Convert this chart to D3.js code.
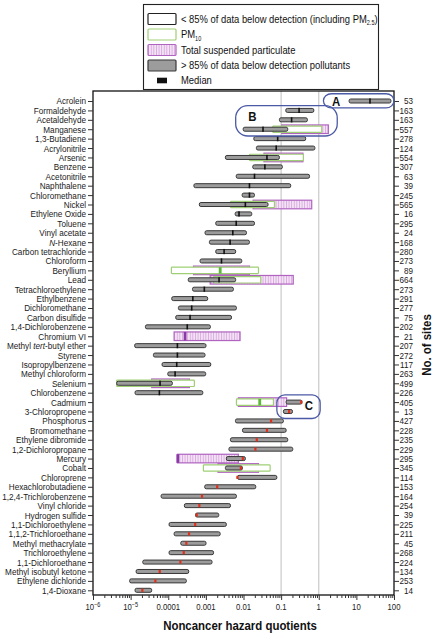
<!DOCTYPE html>
<html><head><meta charset="utf-8">
<script src="https://cdn.jsdelivr.net/npm/d3@7"></script>
<style>
body{margin:0;background:#fff}
svg{font-family:"Liberation Sans",Arial,sans-serif}
</style></head><body>
<svg id="c" width="437" height="636"></svg>
<script>
const categories = ["Acrolein","Formaldehyde","Acetaldehyde","Manganese","1,3-Butadiene","Acrylonitrile","Arsenic","Benzene","Acetonitrile","Naphthalene","Chloromethane","Nickel","Ethylene Oxide","Toluene","Vinyl acetate","N-Hexane","Carbon tetrachloride","Chloroform","Beryllium","Lead","Tetrachloroethylene","Ethylbenzene","Dichloromethane","Carbon disulfide","1,4-Dichlorobenzene","Chromium VI","Methyl tert-butyl ether","Styrene","Isopropylbenzene","Methyl chloroform","Selenium","Chlorobenzene","Cadmium","3-Chloropropene","Phosphorus","Bromomethane","Ethylene dibromide","1,2-Dichloropropane","Mercury","Cobalt","Chloroprene","Hexachlorobutadiene","1,2,4-Trichlorobenzene","Vinyl chloride","Hydrogen sulfide","1,1-Dichloroethylene","1,1,2-Trichloroethane","Methyl methacrylate","Trichloroethylene","1,1-Dichloroethane","Methyl isobutyl ketone","Ethylene dichloride","1,4-Dioxane"];
const sites = [53,163,163,557,278,124,554,307,63,39,245,565,16,295,24,168,280,273,89,664,273,291,277,75,202,21,207,272,117,263,499,226,405,13,427,228,235,229,295,345,114,153,164,254,39,225,211,45,268,224,134,253,14];

// gray bars: low, high, median
const grayLow  = [6.4,0.133,0.090,0.0098,0.0188,0.022,0.0033,0.0176,0.0064,0.00048,0.0092,0.00067,0.006,0.00183,0.00095,0.00124,0.00183,0.0007,null,0.00034,0.00044,0.000124,0.000186,0.000158,0.0000247,null,0.0000128,0.0000403,0.0000684,0.000097,0.00000425,0.0000131,0.136,0.115,0.0061,0.0094,0.0045,0.0041,0.0035,0.0033,0.0069,0.00093,0.0000645,0.000268,0.00053,0.000105,0.000143,0.000215,0.000105,0.000021,0.000014,0.0000094,0.0000131];
const grayHigh = [83,0.74,0.50,0.15,0.45,0.79,0.090,0.108,0.57,0.18,0.0196,0.045,0.0166,0.0196,0.012,0.0144,0.0062,0.009,null,0.0062,0.0054,0.00112,0.0065,0.0048,0.00132,null,0.00101,0.00095,0.00135,0.00099,0.000129,0.00083,0.36,0.2,0.115,0.136,0.15,0.204,0.0112,0.0094,0.077,0.0212,0.0065,0.0045,0.0022,0.0035,0.0024,0.00101,0.0016,0.00146,0.00035,0.000303,0.0000363];
const grayMed  = [23,0.30,0.19,0.033,0.081,0.074,0.042,0.037,0.0196,0.0144,0.0144,0.0112,0.0076,0.0064,0.0052,0.0044,0.00305,0.0026,null,0.00224,0.00091,0.00045,0.00042,0.00038,0.00032,null,0.000175,0.000175,0.000168,0.000152,0.0000605,0.0000581,0.34,0.163,0.054,0.042,0.0225,0.0207,0.0096,0.0085,0.0069,0.002,0.00079,0.00067,0.00057,0.00052,0.000357,0.000303,0.000258,0.00021,0.0000593,0.0000455,0.0000205];
// categories whose median marker is red
const redMedianCats = ["Cadmium","3-Chloropropene","Phosphorus","Bromomethane","Ethylene dibromide","1,2-Dichloropropane","Mercury","Cobalt","Chloroprene","Hexachlorobutadiene","1,2,4-Trichlorobenzene","Vinyl chloride","Hydrogen sulfide","1,1-Dichloroethylene","1,1,2-Trichloroethane","Methyl methacrylate","Trichloroethylene","1,1-Dichloroethane","Methyl isobutyl ketone","Ethylene dichloride","1,4-Dioxane"];

// PM10
const pm10Cats = ["Manganese","Arsenic","Nickel","Beryllium","Lead","Selenium","Cadmium","Cobalt"];
const pm10Low  = [0.060,0.0144,0.0045,0.000121,0.0016,0.00000425,0.0065,0.00086];
const pm10High = [1.2,0.39,0.0665,0.025,0.0288,0.000495,0.0625,0.051];
const pm10Med  = [null,null,null,0.0024,null,null,0.027,null];

// Total suspended particulate
const tspCats = ["Manganese","Arsenic","Nickel","Beryllium","Lead","Chromium VI","Selenium","Cadmium","Mercury","Cobalt"];
const tspLow  = [0.104,0.035,0.018,0.00047,0.0013,0.000143,0.0000363,0.0073,0.000175,0.0021];
const tspHigh = [1.8,0.38,0.65,0.0144,0.21,0.0081,0.000365,0.14,0.0073,0.025];
const tspMed  = [null,null,null,null,null,0.00028,null,null,0.00018,null];

const xTickValues = [1e-6,1e-5,1e-4,1e-3,1e-2,1e-1,1,10,100];
const xTickLabels = ["10^−6","10^−5","0.0001","0.001","0.01","0.1","1","10","100"];
const refLines = [0.1,1];

const annoLabels = ["A","B","C"];
const annoX0 = [1.33,0.0062,0.077];
const annoX1 = [100,3.1,1.09];
const annoRow0 = ["Acrolein","Formaldehyde","Cadmium"];
const annoRow1 = ["Acrolein","Manganese","3-Chloropropene"];
const annoLabelX = [2.9,0.0173,0.55];
const annoLabelRow = ["Acrolein","Formaldehyde","Cadmium"];

const legendLabels = ["< 85% of data below detection (including PM2.5)","PM10","Total suspended particulate","> 85% of data below detection pollutants","Median"];

const K = 0.88; // horizontal condensing of the font
function narrow(sel){
  sel.each(function(){
    const t = d3.select(this);
    const x0 = +t.attr("x") || 0;
    const tr = t.attr("transform") || "";
    t.attr("x",0).attr("transform", `${tr} translate(${x0},0) scale(${K},1)`);
  });
}

const svg = d3.select("#c");
const L=93,R=394,T=91,B=595;
const x = d3.scaleLog().domain([1e-6,100]).range([L,R]);
const y = d3.scalePoint().domain(categories).range([101,590.3]);
const st = y.step();

const defs = svg.append("defs");
const pat = defs.append("pattern").attr("id","tspPat").attr("patternUnits","userSpaceOnUse").attr("width",2.6).attr("height",10);
pat.append("rect").attr("width",2.6).attr("height",10).attr("fill","#f3e3f5");
pat.append("rect").attr("x",0).attr("width",0.9).attr("height",10).attr("fill","#d9a9df");

// reference lines
svg.append("g").selectAll("line").data(refLines).join("line")
  .attr("x1",d=>x(d)).attr("x2",d=>x(d)).attr("y1",T).attr("y2",B)
  .attr("stroke","#c9c9c9").attr("stroke-width",1.2);

// TSP boxes
const tspData = tspCats.map((c,i)=>({c,lo:tspLow[i],hi:tspHigh[i],med:tspMed[i]}));
svg.append("g").selectAll("rect").data(tspData).join("rect")
  .attr("x",d=>x(d.lo)).attr("width",d=>x(d.hi)-x(d.lo))
  .attr("y",d=>y(d.c)-4.3).attr("height",8.6)
  .attr("fill","url(#tspPat)").attr("stroke","#b064c0").attr("stroke-width",1.2);

// PM10 boxes
const pmData = pm10Cats.map((c,i)=>({c,lo:pm10Low[i],hi:pm10High[i],med:pm10Med[i]}));
svg.append("g").selectAll("rect").data(pmData).join("rect")
  .attr("x",d=>x(d.lo)).attr("width",d=>x(d.hi)-x(d.lo))
  .attr("y",d=>y(d.c)-3.2).attr("height",6.4).attr("rx",0.8)
  .attr("fill","#fff").attr("stroke","#9fcf74").attr("stroke-width",1.2);

// gray bars
const grayData = categories.map((c,i)=>({c,lo:grayLow[i],hi:grayHigh[i],med:grayMed[i],red:redMedianCats.includes(c)})).filter(d=>d.lo!=null);
svg.append("g").selectAll("rect").data(grayData).join("rect")
  .attr("x",d=>x(d.lo)).attr("width",d=>x(d.hi)-x(d.lo))
  .attr("y",d=>y(d.c)-2).attr("height",4).attr("rx",1.6)
  .attr("fill","#9c9c9c").attr("stroke","#383838").attr("stroke-width",1);

// medians
svg.append("g").selectAll("rect").data(grayData).join("rect")
  .attr("x",d=>x(d.med)-(d.red?1.1:0.8)).attr("width",d=>d.red?2.2:1.6)
  .attr("y",d=>y(d.c)-(d.red?1.6:2.6)).attr("height",d=>d.red?3.2:5.2)
  .attr("fill",d=>d.red?"#e0301c":"#111");
svg.append("g").selectAll("rect").data(pmData.filter(d=>d.med!=null)).join("rect")
  .attr("x",d=>x(d.med)-1.4).attr("width",2.8)
  .attr("y",d=>y(d.c)-3.2).attr("height",6.4).attr("fill","#5cb83a");
svg.append("g").selectAll("rect").data(tspData.filter(d=>d.med!=null)).join("rect")
  .attr("x",d=>x(d.med)-1.4).attr("width",2.8)
  .attr("y",d=>y(d.c)-4.3).attr("height",8.6).attr("fill","#8a3aa4");

// frame
svg.append("rect").attr("x",L).attr("y",T).attr("width",R-L).attr("height",B-T)
  .attr("fill","none").attr("stroke","#111").attr("stroke-width",1.3);

// left axis
const gl = svg.append("g").attr("transform",`translate(${L},0)`)
  .call(d3.axisLeft(y).tickSize(5).tickPadding(2));
gl.select(".domain").remove();
gl.selectAll("line").attr("stroke","#333");
gl.selectAll("text").attr("font-size",9.3).attr("fill","#1a1a1a").each(function(d){
  const t = d3.select(this); t.text(null);
  if (d==="N-Hexane"){ t.append("tspan").attr("font-style","italic").text("N"); t.append("tspan").text("-Hexane"); }
  else if (d==="Methyl tert-butyl ether"){ t.append("tspan").text("Methyl "); t.append("tspan").attr("font-style","italic").text("tert"); t.append("tspan").text("-butyl ether"); }
  else t.text(d);
});
narrow(gl.selectAll("text"));

// right axis
const gr = svg.append("g").attr("transform",`translate(${R},0)`)
  .call(d3.axisRight(y).tickSize(5).tickFormat(d=>sites[categories.indexOf(d)]));
gr.select(".domain").remove();
gr.selectAll("line").attr("stroke","#333");
gr.selectAll("text").attr("x",19).attr("text-anchor","end").attr("font-size",9.2).attr("fill","#1a1a1a");
narrow(gr.selectAll("text"));

// bottom axis
const minor = [];
for (let e=-6;e<2;e++) for (let m=2;m<10;m++) minor.push(m*Math.pow(10,e));
const gbm = svg.append("g").attr("transform",`translate(0,${B})`)
  .call(d3.axisBottom(x).tickValues(minor).tickSize(3).tickFormat(""));
gbm.select(".domain").remove(); gbm.selectAll("line").attr("stroke","#333");
const gb = svg.append("g").attr("transform",`translate(0,${B})`)
  .call(d3.axisBottom(x).tickValues(xTickValues).tickSize(5).tickFormat(""));
gb.select(".domain").remove(); gb.selectAll("line").attr("stroke","#333");
const lab = svg.append("g").selectAll("text").data(xTickValues).join("text")
  .attr("x",d=>x(d)).attr("y",610.5).attr("text-anchor","middle").attr("font-size",8.8).attr("fill","#1a1a1a");
lab.each(function(d,i){
  const s = xTickLabels[i].split("^"); const t=d3.select(this);
  t.append("tspan").text(s[0]);
  if (s[1]) t.append("tspan").attr("dy",-3.5).attr("font-size",6.3).text(s[1]);
});
narrow(lab);

// axis titles
const xt = svg.append("text").attr("x",240).attr("y",630).attr("text-anchor","middle")
  .attr("font-weight","bold").attr("font-size",13).attr("fill","#111").text("Noncancer hazard quotients");
narrow(xt);
svg.append("text").attr("transform",`translate(431,345) rotate(-90) scale(${K},1)`).attr("text-anchor","middle")
  .attr("font-weight","bold").attr("font-size",13).attr("fill","#111").text("No. of sites");

// annotations
const ga = svg.append("g");
annoLabels.forEach((a,i)=>{
  const y0 = y(annoRow0[i]) - (i===1?0.5:0.77)*st;
  const y1 = y(annoRow1[i]) + (i===1?0.72:0.74)*st;
  ga.append("rect").attr("x",x(annoX0[i])).attr("y",y0).attr("width",x(annoX1[i])-x(annoX0[i])).attr("height",y1-y0)
    .attr("rx",i===1?12:8).attr("fill","none").attr("stroke","#4b5aa6").attr("stroke-width",1.3);
  const ly = y(annoLabelRow[i]) + (i===1?0.67:(i===2?0.3:0))*st;
  const lt = ga.append("text").attr("x",x(annoLabelX[i])).attr("y",ly).attr("dy","0.36em").attr("text-anchor","middle")
    .attr("font-weight","bold").attr("font-size",13).attr("fill","#111").text(a);
  narrow(lt);
});

// legend
const lg = svg.append("g");
lg.append("rect").attr("x",143.5).attr("y",4.5).attr("width",235).attr("height",85).attr("fill","#fff").attr("stroke","#222").attr("stroke-width",1.1);
const lyc = [19,34.5,50,65.5,80.5];
const swFill = ["#fff","#fff","url(#tspPat)","#9c9c9c"];
const swStroke = ["#222","#9fcf74","#b064c0","#383838"];
for (let i=0;i<4;i++){
  lg.append("rect").attr("x",148).attr("y",lyc[i]-5.5).attr("width",28).attr("height",11).attr("rx",1)
    .attr("fill",swFill[i]).attr("stroke",swStroke[i]).attr("stroke-width",1.2);
}
lg.append("rect").attr("x",157).attr("y",lyc[4]-2.8).attr("width",10).attr("height",5.6).attr("fill","#111");
legendLabels.forEach((t,i)=>{
  const tx = lg.append("text").attr("x",181).attr("y",lyc[i]).attr("dy","0.35em").attr("font-size",10.7).attr("fill","#111");
  if (t.includes("PM2.5")){ tx.append("tspan").text("< 85% of data below detection (including PM"); tx.append("tspan").attr("font-size",6.3).attr("dy",2.5).text("2.5"); tx.append("tspan").attr("dy",-2.5).text(")"); }
  else if (t==="PM10"){ tx.append("tspan").text("PM"); tx.append("tspan").attr("font-size",6.3).attr("dy",2.5).text("10"); }
  else tx.text(t);
  narrow(tx);
});
</script></body></html>
